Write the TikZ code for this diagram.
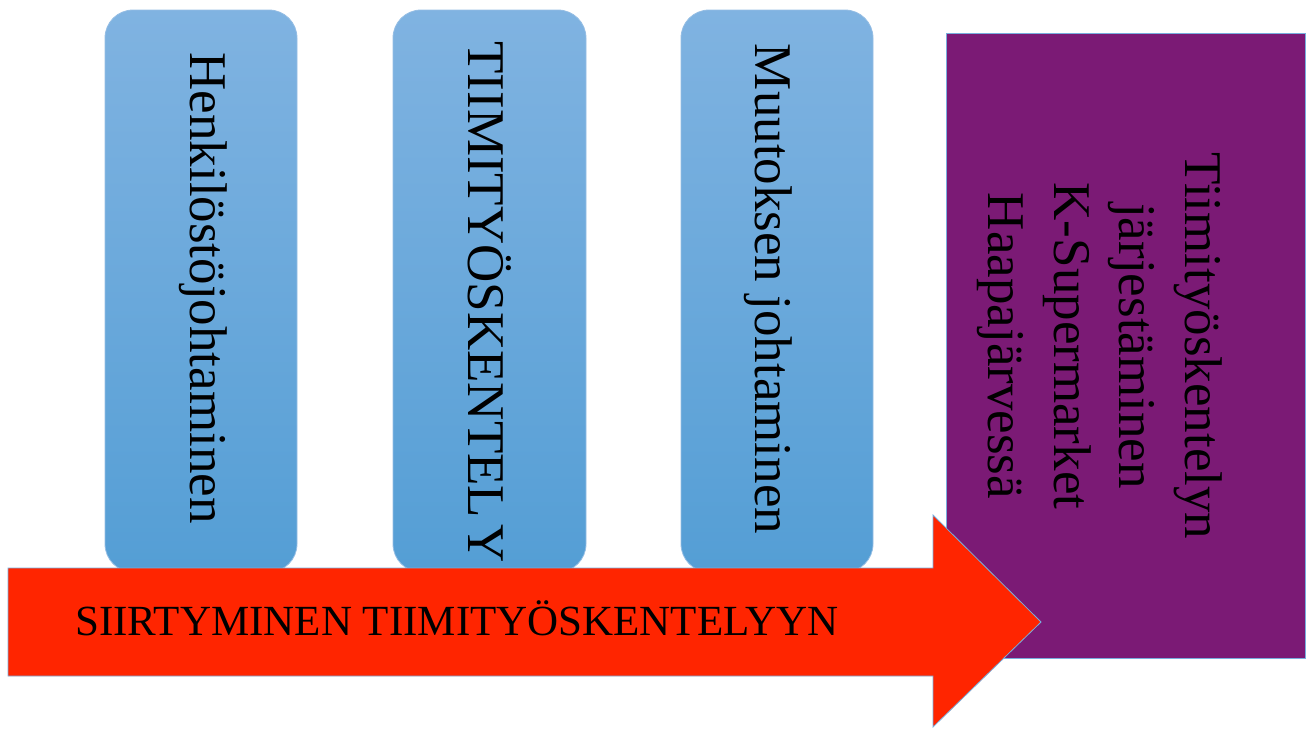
\documentclass[tikz,border=0pt]{standalone}
\usepackage{fontspec}
\setmainfont{Liberation Serif}
\definecolor{boxtop}{RGB}{128,179,225}
\definecolor{boxbot}{RGB}{84,158,213}
\definecolor{boxedge}{RGB}{150,190,228}
\definecolor{arrowred}{RGB}{255,37,0}
\definecolor{goalpurple}{RGB}{123,26,117}
\definecolor{thinedge}{RGB}{120,174,222}
\begin{document}
\begin{tikzpicture}[x=1pt,y=-1pt,
  bluebox/.style={rounded corners=28pt, top color=boxtop, bottom color=boxbot,
    draw=boxedge, line width=0.8pt, minimum height=562pt, inner sep=0pt},
  goalbox/.style={fill=goalpurple, draw=thinedge, line width=0.8pt,
    minimum width=359pt, minimum height=625pt, inner sep=0pt},
  bigarrow/.style={fill=arrowred, draw=thinedge, line width=0.8pt},
  vtext/.style={rotate=-90, anchor=base, inner sep=0pt, text=black,
    font=\fontsize{53}{66}\selectfont},
  htext/.style={anchor=base, inner sep=0pt, text=black,
    font=\fontsize{43}{50}\selectfont},
]
\useasboundingbox (0,0) rectangle (1313,729);
% blue boxes
\node[bluebox, minimum width=192pt] (b1) at (201,291) {};
\node[bluebox, minimum width=193pt] (b2) at (489.5,291) {};
\node[bluebox, minimum width=192pt] (b3) at (777,291) {};
\node[vtext] (t1) at (190,288) {Henkilöstöjohtaminen};
\node[vtext] (t2) at (468,302) {TIIMITYÖSKENTEL\kern6pt Y};
\node[vtext] (t3) at (755,289) {Muutoksen johtaminen};
% purple goal box
\node[goalbox] (goal) at (1125.5,345.5) {};
\node[vtext] (g1) at (1185,346) {Tiimityöskentelyn};
\node[vtext] (g2) at (1119,346) {järjestäminen};
\node[vtext] (g3) at (1054,346) {K-Supermarket};
\node[vtext] (g4) at (988,346) {Haapajärvessä};
% big arrow
\draw[bigarrow] (8,568) -- (933,568) -- (933,515) -- (1041,622)
  -- (933,727) -- (933,676) -- (8,676) -- cycle;
\node[htext] (arrowlabel) at (457,635) {SIIRTYMINEN TIIMITYÖSKENTELYYN};
\end{tikzpicture}
\end{document}
